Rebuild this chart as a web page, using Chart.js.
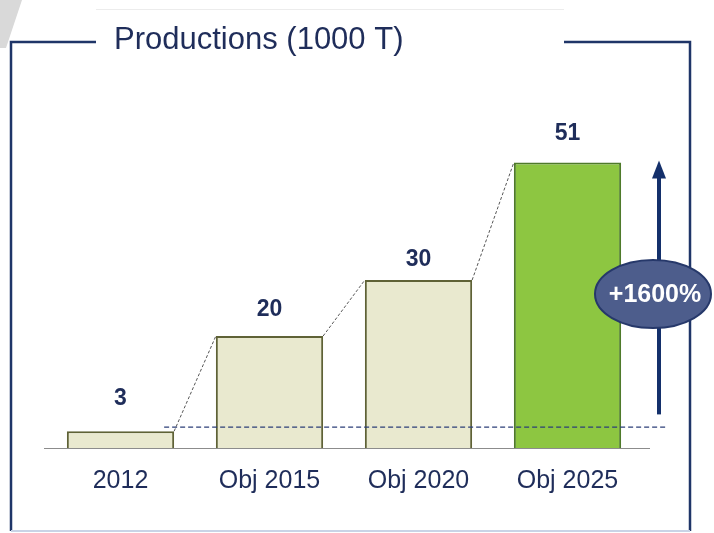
<!DOCTYPE html>
<html>
<head>
<meta charset="utf-8">
<script src="https://cdn.jsdelivr.net/npm/chart.js@4.4.0/dist/chart.umd.min.js"></script>
<style>
  html, body { margin: 0; padding: 0; background: #fff; }
  #wrap { width: 714px; height: 533px; position: relative; }
</style>
</head>
<body>
<div id="wrap"><canvas id="prodChart" width="714" height="533"></canvas></div>
<script>
const titleText = "Productions (1000 T)";
const categories = ["2012", "Obj 2015", "Obj 2020", "Obj 2025"];
const productions = [3, 20, 30, 51];
const growthLabel = "+1600%";

const barFill = ['#e9e9cf', '#e9e9cf', '#e9e9cf', '#8dc641'];
const barBorder = ['#5f6236', '#5f6236', '#5f6236', '#4e7a2a'];
const navy = '#1f2d5a';
const fontFamily = '"Liberation Sans", Arial, sans-serif';

// frame, title box, connectors, arrow & bubble
const decorations = {
    id: 'decorations',
    beforeDraw(chart) {
        const ctx = chart.ctx;
        ctx.save();
        // grey wedge in the corner
        ctx.fillStyle = '#d9d9d9';
        ctx.beginPath();
        ctx.moveTo(0, 0); ctx.lineTo(22, 0); ctx.lineTo(6, 48); ctx.lineTo(0, 48);
        ctx.closePath(); ctx.fill();

        // frame
        ctx.strokeStyle = '#1f3568';
        ctx.lineWidth = 2.5;
        ctx.beginPath();
        ctx.moveTo(96, 42); ctx.lineTo(11, 42); ctx.lineTo(11, 531);
        ctx.moveTo(564, 42); ctx.lineTo(690, 42); ctx.lineTo(690, 531);
        ctx.stroke();
        ctx.strokeStyle = '#c9d3e6';
        ctx.lineWidth = 2;
        ctx.beginPath();
        ctx.moveTo(11, 531); ctx.lineTo(690, 531);
        ctx.stroke();

        // title box
        ctx.fillStyle = '#ffffff';
        ctx.fillRect(96, 9, 468, 60);
        ctx.strokeStyle = '#ececec';
        ctx.lineWidth = 1;
        ctx.beginPath();
        ctx.moveTo(96, 9.5); ctx.lineTo(564, 9.5);
        ctx.stroke();
        ctx.fillStyle = navy;
        ctx.font = '31px ' + fontFamily;
        ctx.textBaseline = 'middle';
        ctx.fillText(titleText, 114, 40);

        // baseline
        const area = chart.chartArea;
        const y0 = chart.scales.y.getPixelForValue(0);
        ctx.strokeStyle = '#8c8c8c';
        ctx.lineWidth = 1;
        ctx.beginPath();
        ctx.moveTo(area.left - 2, y0 + 0.5); ctx.lineTo(area.right + 8, y0 + 0.5);
        ctx.stroke();
        ctx.restore();
    },
    afterDatasetsDraw(chart) {
        const ctx = chart.ctx;
        const yScale = chart.scales.y;
        const bars = chart.getDatasetMeta(0).data;
        const area = chart.chartArea;
        ctx.save();

        // dashed reference line at the 2012 level
        const yRef = yScale.getPixelForValue(productions[0]) - 4;
        ctx.strokeStyle = '#2c3f78';
        ctx.lineWidth = 1.3;
        ctx.setLineDash([5, 3]);
        ctx.beginPath();
        ctx.moveTo(bars[0].x + bars[0].width / 2 - 10, yRef);
        ctx.lineTo(area.right + 26, yRef);
        ctx.stroke();

        // connectors between bar tops
        ctx.strokeStyle = '#555';
        ctx.lineWidth = 1;
        ctx.setLineDash([3, 2]);
        for (let i = 0; i < bars.length - 1; i++) {
            const a = bars[i], b = bars[i + 1];
            ctx.beginPath();
            ctx.moveTo(a.x + a.width / 2, a.y);
            ctx.lineTo(b.x - b.width / 2, b.y);
            ctx.stroke();
        }
        ctx.setLineDash([]);

        // value labels
        ctx.fillStyle = navy;
        ctx.font = 'bold 23px ' + fontFamily;
        ctx.textAlign = 'center';
        ctx.textBaseline = 'middle';
        const offsets = [33, 26, 20, 29];
        bars.forEach((bar, i) => {
            ctx.fillText(String(productions[i]), bar.x, bar.y - offsets[i]);
        });

        // growth arrow
        const ax = area.right + 17;
        const yTop = yScale.getPixelForValue(productions[productions.length - 1]);
        const yBot = yScale.getPixelForValue(productions[0] + 3);
        ctx.strokeStyle = '#14306b';
        ctx.fillStyle = '#14306b';
        ctx.lineWidth = 4;
        ctx.beginPath();
        ctx.moveTo(ax, yBot); ctx.lineTo(ax, yTop + 14);
        ctx.stroke();
        ctx.beginPath();
        ctx.moveTo(ax, yTop - 2); ctx.lineTo(ax - 7, yTop + 16); ctx.lineTo(ax + 7, yTop + 16);
        ctx.closePath(); ctx.fill();

        // bubble
        const bx = area.right + 11, cy = 294;
        ctx.beginPath();
        ctx.ellipse(bx, cy, 58, 34, 0, 0, Math.PI * 2);
        ctx.fillStyle = '#4d5d8c';
        ctx.fill();
        ctx.strokeStyle = '#26386a';
        ctx.lineWidth = 2;
        ctx.stroke();
        ctx.fillStyle = '#ffffff';
        ctx.font = 'bold 25px ' + fontFamily;
        ctx.fillText(growthLabel, bx + 2, cy + 1);
        ctx.restore();
    }
};

new Chart(document.getElementById('prodChart'), {
    type: 'bar',
    data: {
        labels: categories,
        datasets: [{
            data: productions,
            backgroundColor: barFill,
            borderColor: barBorder,
            borderWidth: 2,
            categoryPercentage: 1,
            barPercentage: 0.72
        }]
    },
    options: {
        responsive: false,
        animation: false,
        layout: { padding: { left: 46, right: 72, top: 112, bottom: 0 } },
        plugins: { legend: { display: false }, tooltip: { enabled: false } },
        scales: {
            x: {
                grid: { display: false },
                border: { display: false },
                ticks: {
                    color: navy,
                    padding: 10,
                    font: { size: 25, family: fontFamily }
                },
                afterFit(scale) { scale.height = 85; }
            },
            y: { display: false, min: 0, max: 60 }
        }
    },
    plugins: [decorations]
});
</script>
</body>
</html>
